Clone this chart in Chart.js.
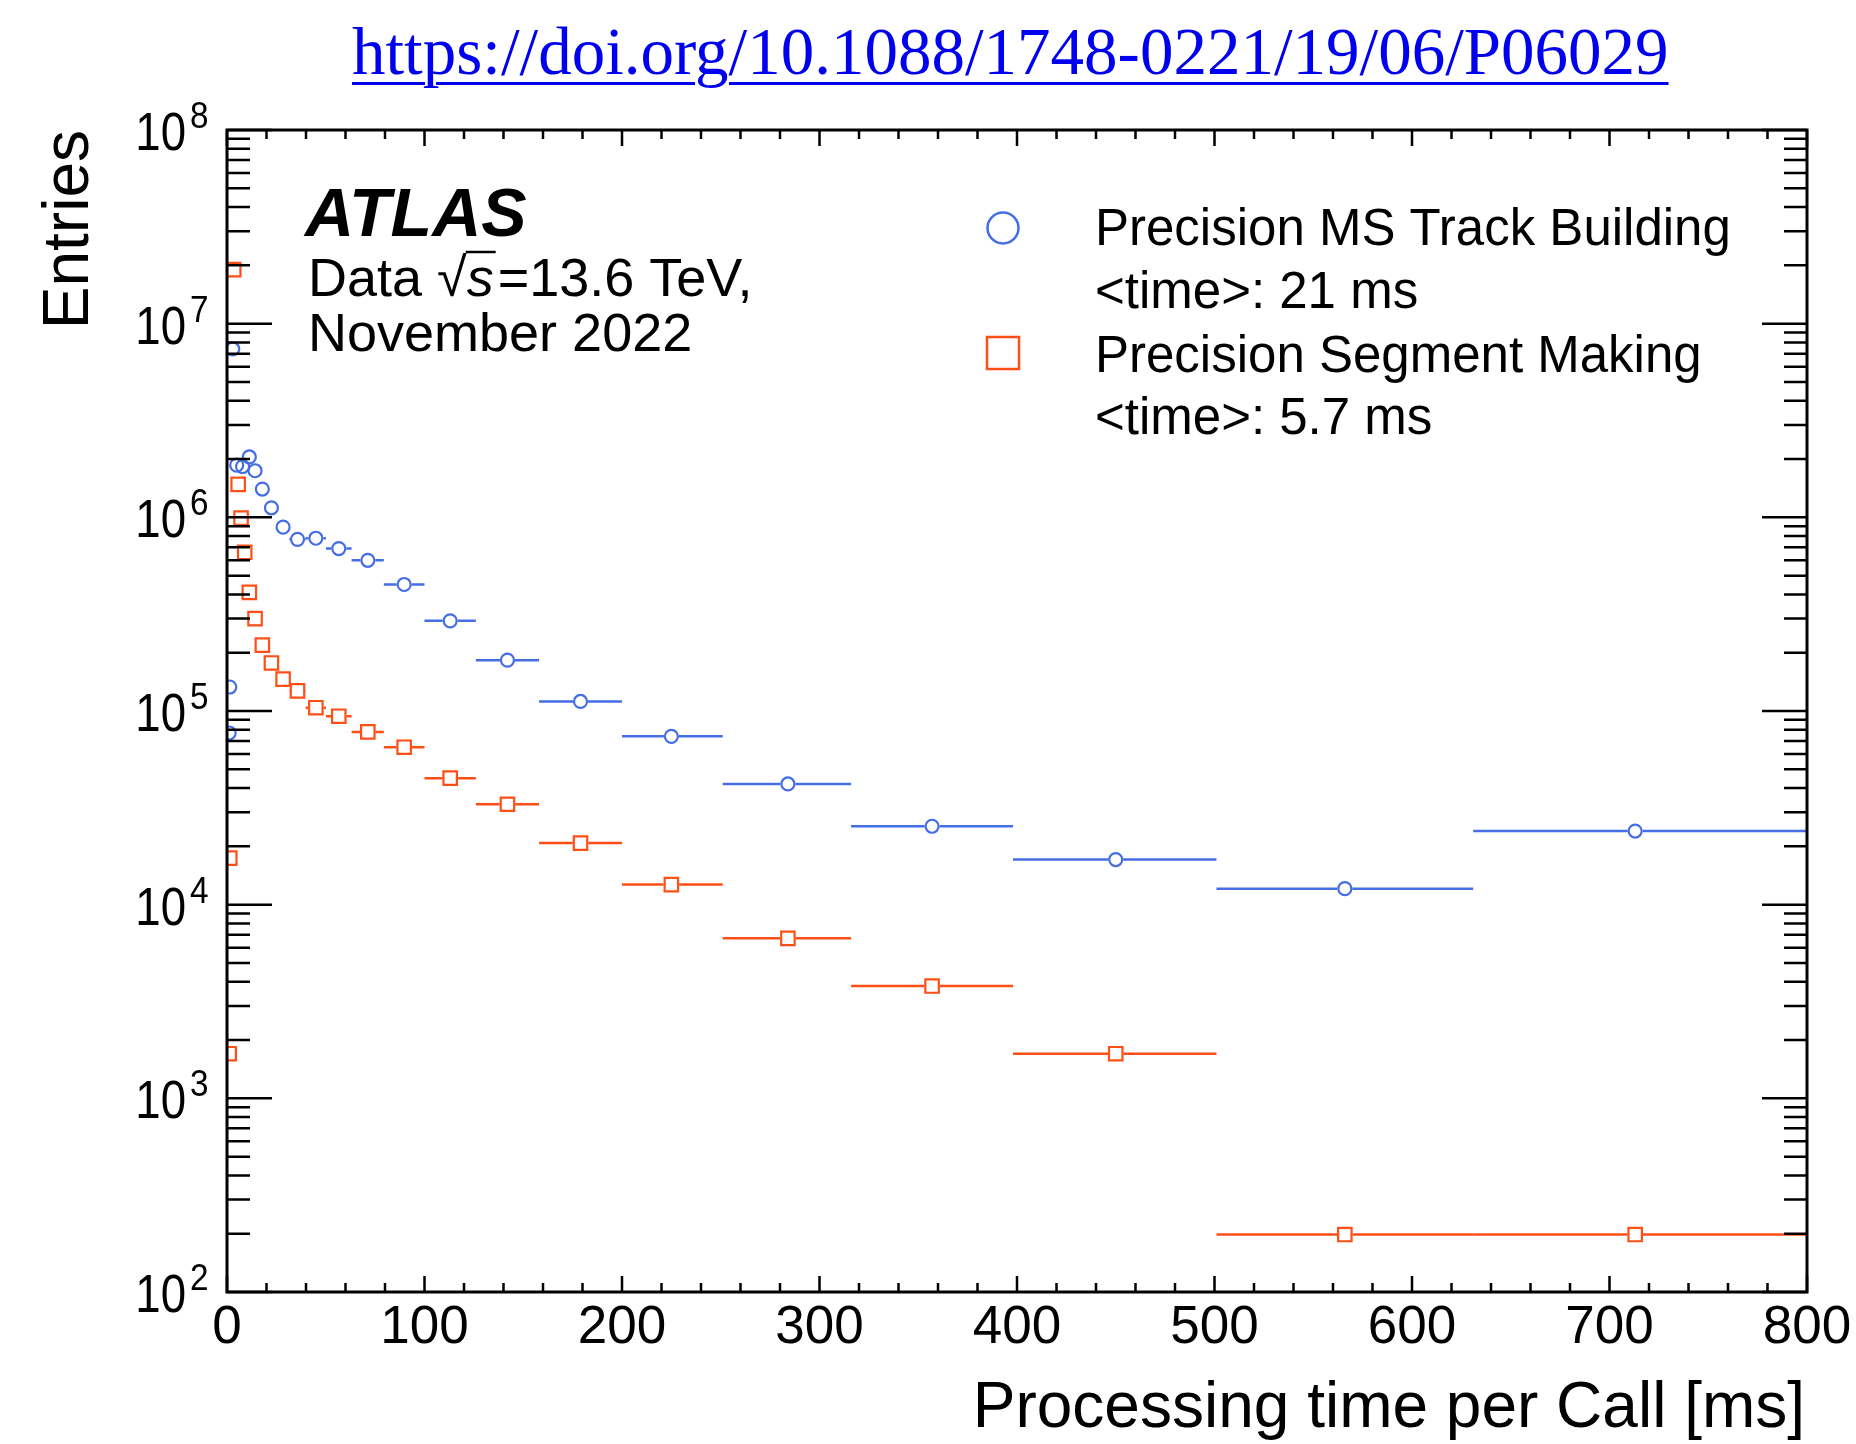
<!DOCTYPE html>
<html>
<head>
<meta charset="utf-8">
<script src="https://cdn.jsdelivr.net/npm/chart.js@4.4.1/dist/chart.umd.min.js"></script>
<style>
  html, body { margin: 0; padding: 0; background: #ffffff; }
  #wrap { position: relative; width: 1856px; height: 1444px; overflow: hidden; }
  #chart { position: absolute; left: 0; top: 0; }
  #doi {
    position: absolute; left: 352px; top: 18px;
    font-family: 'Liberation Serif', serif; font-size: 67px; line-height: 67px;
    color: #0000ee; text-decoration: underline;
    text-decoration-thickness: 3px; text-underline-offset: 8px;
    white-space: nowrap;
  }
</style>
</head>
<body>
<div id="wrap">
  <canvas id="chart" width="1856" height="1444"></canvas>
  <a id="doi" href="https://doi.org/10.1088/1748-0221/19/06/P06029">https://doi.org/10.1088/1748-0221/19/06/P06029</a>
</div>
<script>
"use strict";

// histogram bin edges [ms] (log binning, 10 per decade, last bin cut at 800)
const binEdges = [0.79, 1.0, 1.26, 1.58, 2.0, 2.51, 3.16, 3.98, 5.01, 6.31, 7.94, 10.0, 12.6, 15.8, 20.0,
    25.1, 31.6, 39.8, 50.1, 63.1, 79.4, 100, 126, 158, 200, 251, 316, 398, 501, 631, 800];

// Precision MS Track Building
const trackTime = [1.1, 1.4, 2.9, 4.9, 7.9, 11.3, 14.2, 17.9, 22.5, 28.4, 35.7, 45.0, 56.6, 71.3, 89.7,
    113, 142, 179, 225, 284, 357, 450, 566, 713];
const trackEntries = [7.7e4, 1.33e5, 7.4e6, 1.86e6, 1.83e6, 2.05e6, 1.74e6, 1.40e6, 1.12e6, 8.9e5, 7.7e5,
    7.8e5, 6.9e5, 6.0e5, 4.5e5, 2.92e5, 1.83e5, 1.12e5, 7.4e4, 4.2e4, 2.54e4, 1.71e4, 1.21e4, 2.4e4];

// Precision Segment Making
const segmentTime = [1.1, 1.4, 3.4, 5.66, 7.12, 8.97, 11.3, 14.2, 17.9, 22.5, 28.4, 35.7, 45.0, 56.6, 71.3,
    89.7, 113, 142, 179, 225, 284, 357, 450, 566, 713];
const segmentEntries = [1.7e3, 1.74e4, 1.9e7, 1.48e6, 9.9e5, 6.6e5, 4.1e5, 3.0e5, 2.19e5, 1.77e5, 1.46e5,
    1.27e5, 1.04e5, 9.4e4, 7.8e4, 6.5e4, 4.5e4, 3.3e4, 2.08e4, 1.27e4, 6.7e3, 3.8e3, 1.7e3, 198, 198];

// axis ticks
const xTickLabels = [0, 100, 200, 300, 400, 500, 600, 700, 800];
const yTickExponents = [2, 3, 4, 5, 6, 7, 8];

const legendLabels = ['Precision MS Track Building', '<time>: 21 ms', 'Precision Segment Making', '<time>: 5.7 ms'];

const BLUE = '#456ee6';
const ORANGE = '#ff4f17';
const FONT = '"Liberation Sans", Arial, Helvetica, sans-serif';

const toPoints = (xs, ys) => xs.map((x, i) => ({x: x, y: ys[i]}));

function binOf(x) {
    for (let i = 0; i < binEdges.length - 1; i++) {
        if (x >= binEdges[i] && x < binEdges[i + 1]) return [binEdges[i], binEdges[i + 1]];
    }
    return [x, x];
}

// horizontal bin-width bars, drawn outside the hollow markers
const errorBars = {
    id: 'errorBars',
    beforeDatasetsDraw(chart) {
        const {ctx, chartArea, scales} = chart;
        ctx.save();
        ctx.beginPath();
        ctx.rect(chartArea.left, chartArea.top, chartArea.right - chartArea.left, chartArea.bottom - chartArea.top);
        ctx.clip();
        chart.data.datasets.forEach(ds => {
            ctx.strokeStyle = ds.borderColor;
            ctx.lineWidth = 2.5;
            const gap = ds.barGap;
            ds.data.forEach(p => {
                const [lo, hi] = binOf(p.x);
                const px = scales.x.getPixelForValue(p.x);
                const py = scales.y.getPixelForValue(p.y);
                const x0 = scales.x.getPixelForValue(lo);
                const x1 = scales.x.getPixelForValue(hi);
                ctx.beginPath();
                if (px - gap > x0) { ctx.moveTo(x0, py); ctx.lineTo(px - gap, py); }
                if (x1 > px + gap) { ctx.moveTo(px + gap, py); ctx.lineTo(x1, py); }
                ctx.stroke();
            });
        });
        ctx.restore();
    }
};

// text squeezed a little horizontally, like the reference's Helvetica
function narrowText(ctx, text, x, y, sx) {
    ctx.save();
    ctx.translate(x, y);
    ctx.scale(sx, 1);
    ctx.fillText(text, 0, 0);
    ctx.restore();
}

// ROOT-like frame with ticks on all four sides and labels
const frame = {
    id: 'frame',
    afterDatasetsDraw(chart) {
        const {ctx, chartArea: a, scales} = chart;
        const xs = scales.x, ys = scales.y;
        ctx.save();
        ctx.strokeStyle = '#000';
        ctx.fillStyle = '#000';

        // y ticks (left and right)
        ctx.lineWidth = 2.5;
        ctx.beginPath();
        yTickExponents.forEach(e => {
            const y = ys.getPixelForValue(Math.pow(10, e));
            ctx.moveTo(a.left, y); ctx.lineTo(a.left + 45, y);
            ctx.moveTo(a.right, y); ctx.lineTo(a.right - 45, y);
            if (e < 8) {
                for (let m = 2; m <= 9; m++) {
                    const ym = ys.getPixelForValue(m * Math.pow(10, e));
                    ctx.moveTo(a.left, ym); ctx.lineTo(a.left + 23, ym);
                    ctx.moveTo(a.right, ym); ctx.lineTo(a.right - 23, ym);
                }
            }
        });
        // x ticks (bottom and top)
        for (let v = 0; v <= 800; v += 20) {
            const x = xs.getPixelForValue(v);
            const len = v % 100 === 0 ? 16 : 9;
            ctx.moveTo(x, a.bottom); ctx.lineTo(x, a.bottom - len);
            ctx.moveTo(x, a.top); ctx.lineTo(x, a.top + len);
        }
        ctx.stroke();

        ctx.lineWidth = 3;
        ctx.strokeRect(a.left, a.top, a.right - a.left, a.bottom - a.top);

        // y tick labels 10^n
        ctx.textBaseline = 'alphabetic';
        yTickExponents.forEach(e => {
            const y = ys.getPixelForValue(Math.pow(10, e));
            ctx.font = '53px ' + FONT;
            ctx.textAlign = 'right';
            narrowText(ctx, '10', 186, y + 20, 0.86);
            ctx.font = '37px ' + FONT;
            ctx.textAlign = 'left';
            narrowText(ctx, String(e), 190, y - 2, 0.9);
        });

        // x tick labels
        ctx.font = '53px ' + FONT;
        ctx.textAlign = 'center';
        xTickLabels.forEach(v => {
            ctx.fillText(String(v), xs.getPixelForValue(v), a.bottom + 51);
        });

        // axis titles
        ctx.font = '64px ' + FONT;
        ctx.textAlign = 'right';
        ctx.fillText('Processing time per Call [ms]', a.right - 2, 1427);

        ctx.save();
        ctx.translate(88, a.top);
        ctx.rotate(-Math.PI / 2);
        ctx.font = '64px ' + FONT;
        ctx.textAlign = 'right';
        ctx.fillText('Entries', 0, 0);
        ctx.restore();

        ctx.restore();
    }
};

// ATLAS label and legend
const annotations = {
    id: 'annotations',
    afterDraw(chart) {
        const ctx = chart.ctx;
        ctx.save();
        ctx.fillStyle = '#000';
        ctx.textAlign = 'left';
        ctx.textBaseline = 'alphabetic';

        ctx.font = 'italic bold 68px ' + FONT;
        ctx.fillText('ATLAS', 305, 236);

        // Data sqrt(s)=13.6 TeV,
        let x = 308;
        const y = 296;
        ctx.font = '54px ' + FONT;
        ctx.fillText('Data ', x, y);
        x += ctx.measureText('Data ').width;
        ctx.fillText('\u221A', x, y);
        x += ctx.measureText('\u221A').width;
        const over0 = x - 1;
        ctx.font = 'italic 54px ' + FONT;
        ctx.fillText('s', x, y);
        x += ctx.measureText('s').width + 2;
        ctx.lineWidth = 2.5;
        ctx.strokeStyle = '#000';
        ctx.beginPath();
        ctx.moveTo(over0, y - 44);
        ctx.lineTo(x, y - 44);
        ctx.stroke();
        ctx.font = '54px ' + FONT;
        ctx.fillText('=13.6 TeV,', x + 2, y);
        ctx.fillText('November 2022', 308, 351);

        // legend markers
        ctx.lineWidth = 2.5;
        ctx.strokeStyle = BLUE;
        ctx.beginPath();
        ctx.arc(1003, 228, 15.5, 0, Math.PI * 2);
        ctx.stroke();
        ctx.strokeStyle = ORANGE;
        ctx.strokeRect(987, 337, 32, 32);

        // legend text
        ctx.fillStyle = '#000';
        ctx.font = '51px ' + FONT;
        const baselines = [245, 308, 372, 434];
        legendLabels.forEach((t, i) => ctx.fillText(t, 1095, baselines[i]));
        ctx.restore();
    }
};

const ctx = document.getElementById('chart').getContext('2d');

new Chart(ctx, {
    type: 'scatter',
    data: {
        datasets: [
            {
                label: 'Precision MS Track Building',
                data: toPoints(trackTime, trackEntries),
                pointStyle: 'circle',
                pointRadius: 6.5,
                pointHoverRadius: 6.5,
                borderWidth: 2.2,
                borderColor: BLUE,
                backgroundColor: 'rgba(0,0,0,0)',
                barGap: 7.5,
                clip: 0
            },
            {
                label: 'Precision Segment Making',
                data: toPoints(segmentTime, segmentEntries),
                pointStyle: 'rect',
                pointRadius: 9.5,
                pointHoverRadius: 9.5,
                borderWidth: 2.2,
                borderColor: ORANGE,
                backgroundColor: 'rgba(0,0,0,0)',
                barGap: 7.8,
                clip: 0
            }
        ]
    },
    options: {
        responsive: false,
        animation: false,
        devicePixelRatio: 1,
        events: [],
        layout: {padding: {left: 227, top: 130, right: 49, bottom: 152}},
        plugins: {
            legend: {display: false},
            tooltip: {enabled: false}
        },
        scales: {
            x: {type: 'linear', min: 0, max: 800, display: false},
            y: {type: 'logarithmic', min: 1e2, max: 1e8, display: false}
        }
    },
    plugins: [errorBars, frame, annotations]
});
</script>
</body>
</html>
